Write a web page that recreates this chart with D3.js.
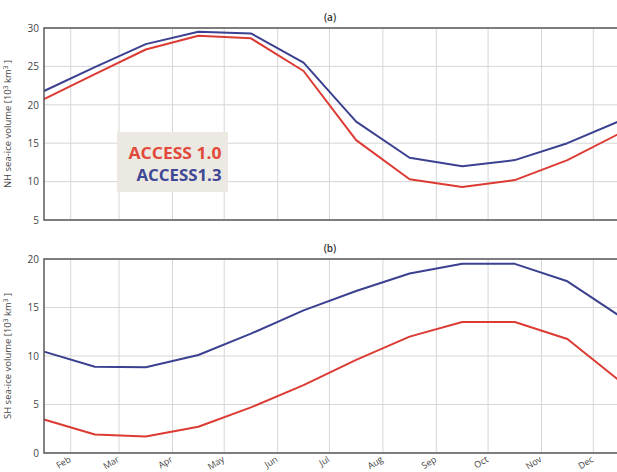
<!DOCTYPE html>
<html>
<head>
<meta charset="utf-8">
<script src="https://cdn.jsdelivr.net/npm/d3@7"></script>
<style>
  html, body { margin: 0; padding: 0; background: #fff; }
  svg { display: block; }
  text { font-family: "Open Sans", "DejaVu Sans", sans-serif; }
</style>
</head>
<body>
<svg id="chart" width="617" height="472"></svg>
<script>
// Monthly mean sea-ice volume (10^3 km^3), mid-month values
const months = ["Jan","Feb","Mar","Apr","May","Jun","Jul","Aug","Sep","Oct","Nov","Dec"];
const nhAccess10 = [20.75, 24.0, 27.2, 29.0, 28.65, 24.4, 15.4, 10.3, 9.3, 10.2, 12.8, 16.3];
const nhAccess13 = [21.8, 24.9, 27.9, 29.5, 29.3, 25.5, 17.8, 13.1, 12.0, 12.8, 15.0, 17.9];
const shAccess10 = [3.45, 1.9, 1.7, 2.7, 4.7, 7.0, 9.6, 12.0, 13.5, 13.5, 11.75, 7.4];
const shAccess13 = [10.45, 8.9, 8.85, 10.1, 12.3, 14.7, 16.7, 18.5, 19.5, 19.5, 17.7, 14.1];
const nhTicks = [5, 10, 15, 20, 25, 30];
const shTicks = [0, 5, 10, 15, 20];
const seriesNames = ["ACCESS 1.0", "ACCESS1.3"];
const seriesColors = ["#dc3b33", "#3b4190"];

// mid-month dates in a non-leap year
const midDates = months.map((m, i) => {
  const start = new Date(2001, i, 1), end = new Date(2001, i + 1, 1);
  return new Date((start.getTime() + end.getTime()) / 2);
});
const monthStarts = d3.range(1, 12).map(i => new Date(2001, i, 1));

const svg = d3.select("#chart");
const left = 44, right = 620;
const x = d3.scaleTime().domain([midDates[0], midDates[11]]).range([left, right]);

function panel(opts) {
  const y = d3.scaleLinear().domain(opts.domain).range([opts.bottom, opts.top]);
  const g = svg.append("g");

  // grid
  g.append("g").selectAll("line.v").data(monthStarts).join("line")
    .attr("x1", d => x(d)).attr("x2", d => x(d))
    .attr("y1", opts.top).attr("y2", opts.bottom)
    .attr("stroke", "#d6d6d6").attr("stroke-width", 1);
  g.append("g").selectAll("line.h").data(opts.ticks).join("line")
    .attr("x1", left).attr("x2", right)
    .attr("y1", d => y(d)).attr("y2", d => y(d))
    .attr("stroke", "#d6d6d6").attr("stroke-width", 1);

  // y axis labels
  const ax = g.append("g").attr("transform", `translate(${left},0)`)
    .call(d3.axisLeft(y).tickValues(opts.ticks).tickSize(0).tickPadding(5));
  ax.select(".domain").remove();
  ax.selectAll("text").attr("font-size", 10).attr("fill", "#444")
    .attr("font-family", "'Open Sans', sans-serif");

  // series lines
  const line = d3.line().x((d, i) => x(midDates[i])).y(d => y(d));
  opts.series.forEach((s, k) => {
    g.append("path").datum(s).attr("d", line)
      .attr("fill", "none").attr("stroke", seriesColors[k])
      .attr("stroke-width", 2).attr("stroke-linejoin", "round");
  });

  // frame
  g.append("rect").attr("x", left).attr("y", opts.top)
    .attr("width", right - left).attr("height", opts.bottom - opts.top)
    .attr("fill", "none").attr("stroke", "#5a5a5a").attr("stroke-width", 1.5);

  // panel title
  g.append("text").attr("x", 330).attr("y", opts.top - 7)
    .attr("text-anchor", "middle").attr("font-size", 10).attr("font-weight", 600)
    .attr("fill", "#333").text(opts.title);

  // y title
  const yt = g.append("text")
    .attr("transform", `translate(11,${(opts.top + opts.bottom) / 2}) rotate(-90)`)
    .attr("text-anchor", "middle").attr("font-size", 9.5).attr("fill", "#444");
  yt.append("tspan").text(opts.label + " [10");
  yt.append("tspan").attr("font-size", 6.5).attr("dy", -3.5).text("3");
  yt.append("tspan").attr("font-size", 9.5).attr("dy", 3.5).text(" km");
  yt.append("tspan").attr("font-size", 6.5).attr("dy", -3.5).text("3");
  yt.append("tspan").attr("font-size", 9.5).attr("dy", 3.5).text(" ]");
  return y;
}

panel({ top: 28, bottom: 220, domain: [5, 30], ticks: nhTicks,
        series: [nhAccess10, nhAccess13], title: "(a)", label: "NH sea-ice volume" });
panel({ top: 259, bottom: 453, domain: [0, 20], ticks: shTicks,
        series: [shAccess10, shAccess13], title: "(b)", label: "SH sea-ice volume" });

// rotated month labels at month starts
svg.append("g").selectAll("text").data(monthStarts).join("text")
  .attr("transform", d => `translate(${x(d) - 1},458) rotate(-32)`)
  .attr("text-anchor", "end").attr("dominant-baseline", "central")
  .attr("font-size", 9).attr("fill", "#444")
  .text(d => months[d.getMonth()]);

// legend
const lg = svg.append("g");
lg.append("rect").attr("x", 117).attr("y", 132).attr("width", 111).attr("height", 60)
  .attr("fill", "#ebe9e2");
lg.selectAll("text").data(seriesNames).join("text")
  .attr("x", (d, i) => i === 0 ? 175 : 179).attr("y", (d, i) => 159 + i * 22)
  .attr("text-anchor", "middle").attr("font-size", 16).attr("font-weight", 700)
  .attr("fill", (d, i) => i === 0 ? "#e2493b" : "#3e4895")
  .attr("textLength", (d, i) => i === 0 ? 93 : 85).attr("lengthAdjust", "spacingAndGlyphs")
  .text(d => d);
</script>
</body>
</html>
